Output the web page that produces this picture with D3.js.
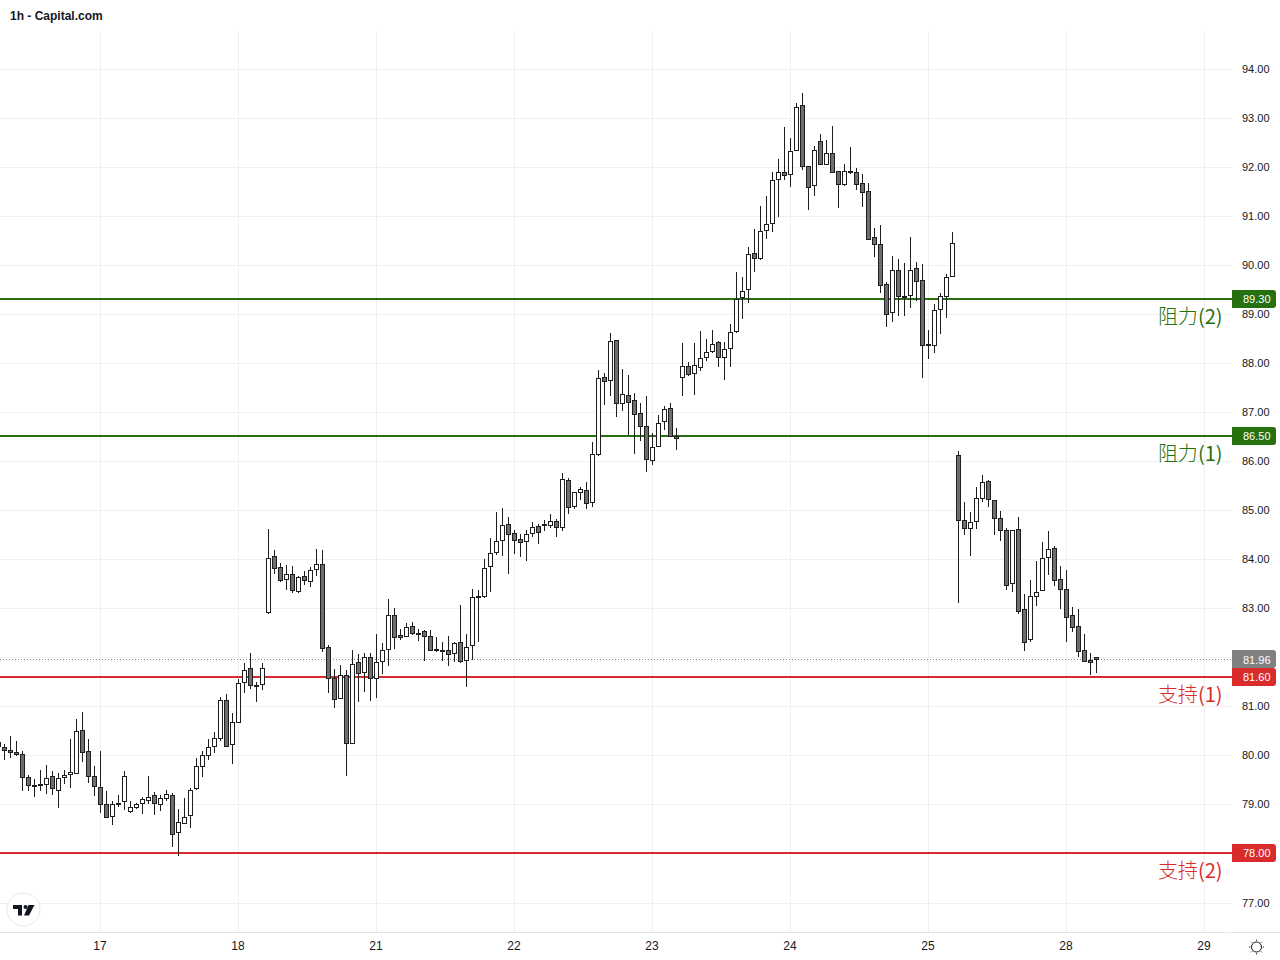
<!DOCTYPE html>
<html>
<head>
<meta charset="utf-8">
<title>1h - Capital.com</title>
<script src="https://d3js.org/d3.v7.min.js"></script>
<style>
html, body { margin: 0; padding: 0; background: #fff; }
svg { display: block; }
</style>
</head>
<body>
<script>
// DATA
var opens = [80.28,
80.18,80.12,80.06,80.02,79.55,79.40,79.42,79.42,79.57,79.30,
79.56,79.63,79.65,80.51,80.10,79.59,79.35,79.00,78.77,79.03,
79.08,78.86,78.94,79.02,79.09,79.19,79.01,79.14,79.19,78.44,
78.63,78.78,79.33,79.78,80.00,80.20,80.35,81.14,80.23,80.69,
81.49,81.78,81.44,81.45,82.92,84.06,83.85,83.59,83.71,83.36,
83.65,83.55,83.81,83.90,82.22,81.57,81.18,81.63,80.26,81.90,
81.71,82.00,81.57,81.92,82.18,82.86,82.45,82.43,82.63,82.49,
82.53,82.43,82.17,82.16,82.14,82.08,82.32,81.94,82.26,83.25,
83.26,83.86,84.14,84.39,84.73,84.53,84.41,84.37,84.53,84.67,
84.71,84.69,84.79,84.65,85.61,85.08,85.37,85.41,85.16,86.14,
87.71,87.65,88.47,87.18,87.35,87.24,86.98,86.71,86.02,86.32,
86.83,87.08,86.52,87.71,87.95,87.80,87.93,88.12,88.24,88.44,
88.12,88.30,88.65,89.34,89.52,90.24,90.14,90.71,90.85,91.75,
91.89,91.85,92.34,93.26,92.03,91.63,92.54,92.07,92.28,91.91,
91.65,91.91,91.89,91.67,91.52,90.58,90.44,89.61,89.04,89.91,
89.38,89.40,89.95,89.69,88.40,88.38,89.10,89.38,89.77,86.12,
84.81,84.63,84.79,85.26,85.59,85.20,84.85,84.59,83.51,84.61,
82.98,82.37,83.26,83.37,84.04,84.24,83.59,83.39,82.86,82.63,
82.14,81.94,82.00];

var highs = [80.33,
80.23,80.40,80.29,80.08,79.61,79.51,79.70,79.80,79.68,79.65,
79.70,80.33,80.74,80.88,80.33,79.78,80.09,79.27,79.08,79.19,
79.69,79.06,79.02,79.15,79.58,79.25,79.19,79.29,79.23,78.91,
79.14,79.33,79.95,80.08,80.33,80.47,81.20,81.25,80.86,81.56,
81.88,82.08,81.49,81.88,84.62,84.19,83.92,83.88,83.86,83.66,
83.77,83.85,84.21,84.19,82.25,81.76,81.84,81.74,82.15,82.06,
82.09,82.08,82.47,82.29,83.19,83.00,82.58,82.70,82.73,82.58,
82.55,82.55,82.41,82.32,82.43,82.32,83.07,82.47,83.39,83.37,
84.00,84.43,84.97,85.05,84.86,84.59,84.52,84.60,84.76,84.73,
84.80,84.92,84.82,85.75,85.66,85.37,85.47,85.57,86.39,87.86,
87.80,88.62,88.47,87.88,87.76,87.39,87.19,87.33,86.57,86.94,
87.12,87.18,86.68,88.41,88.02,88.41,88.65,88.49,88.67,88.46,
88.43,88.80,89.86,89.76,90.36,90.73,91.20,91.41,91.90,92.16,
92.82,92.59,93.30,93.51,92.03,92.42,92.67,92.55,92.84,91.91,
92.06,92.41,91.99,91.86,91.67,90.75,90.82,89.65,90.19,90.12,
90.04,90.57,90.06,90.02,88.68,89.20,89.43,89.81,90.68,86.21,
85.17,84.96,85.47,85.72,85.62,85.20,84.98,84.63,84.59,84.86,
83.29,83.58,83.96,84.35,84.58,84.27,83.86,83.78,83.03,82.99,
82.47,82.09,82.01];

var lows = [80.14,
79.91,79.95,79.98,79.27,79.27,79.15,79.27,79.22,79.19,78.93,
79.41,79.34,79.63,79.86,79.44,79.17,78.82,78.73,78.58,78.95,
78.89,78.83,78.91,78.80,79.01,78.78,78.87,79.07,78.13,77.95,
78.63,78.52,79.29,79.56,79.91,80.05,80.29,80.18,79.82,80.68,
81.27,81.35,81.09,81.33,82.88,83.70,83.54,83.38,83.32,83.32,
83.47,83.44,83.66,82.11,81.27,80.96,81.15,79.58,80.23,81.09,
81.29,81.11,81.17,81.66,81.82,82.17,82.35,82.42,82.45,82.33,
81.92,82.13,82.10,81.92,81.82,81.90,81.88,81.39,81.94,82.31,
83.21,83.33,84.09,84.07,83.70,84.11,84.05,83.97,84.45,84.31,
84.58,84.64,84.45,84.58,84.92,85.02,85.21,85.02,85.07,86.10,
87.15,87.33,86.90,87.03,86.54,86.15,86.41,85.78,85.92,86.31,
86.64,86.49,86.23,87.33,87.74,87.35,87.84,88.05,88.20,87.92,
87.65,87.92,88.61,88.90,89.22,89.86,90.10,90.53,90.67,90.98,
91.73,91.59,92.33,91.94,91.12,91.41,92.06,92.06,91.87,91.16,
91.61,91.86,91.53,91.18,90.51,90.16,89.43,88.74,88.84,88.96,
88.96,89.12,89.27,87.70,88.08,88.21,88.60,88.92,89.77,83.11,
84.49,84.07,84.62,85.17,85.07,84.49,84.37,83.37,83.33,82.88,
82.13,82.31,83.05,83.36,83.68,83.45,82.98,82.31,82.52,82.01,
81.90,81.64,81.68];

var closes = [80.20,
80.12,80.06,80.03,79.55,79.39,79.38,79.40,79.53,79.33,79.53,
79.61,79.67,80.49,80.06,79.57,79.37,79.00,78.75,79.00,79.01,
79.57,78.94,79.01,79.12,79.16,79.02,79.14,79.21,78.39,78.65,
78.75,79.29,79.78,80.00,80.18,80.35,81.14,80.20,80.69,81.47,
81.75,81.43,81.42,81.78,84.02,83.83,83.57,83.69,83.37,83.63,
83.57,83.79,83.90,82.20,81.57,81.16,81.63,80.26,81.86,81.69,
82.00,81.57,81.90,82.14,82.86,82.41,82.41,82.61,82.49,82.48,
82.43,82.14,82.15,82.14,82.06,82.30,81.92,82.22,83.24,83.26,
83.83,84.12,84.37,84.69,84.51,84.39,84.35,84.51,84.65,84.55,
84.69,84.79,84.65,85.63,85.06,85.37,85.43,85.14,86.14,87.69,
87.63,88.45,87.18,87.37,87.20,86.96,86.71,86.04,86.30,86.79,
87.06,86.51,86.47,87.95,87.78,87.97,88.10,88.22,88.40,88.12,
88.28,88.63,89.31,89.48,90.22,90.14,90.69,90.83,91.73,91.89,
91.83,92.32,93.22,92.03,91.60,92.34,92.07,92.28,91.89,91.65,
91.91,91.90,91.65,91.50,90.54,90.44,89.59,89.00,89.91,89.38,
89.37,89.91,89.67,88.38,88.38,89.08,89.36,89.75,90.46,84.81,
84.63,84.77,85.26,85.57,85.22,84.85,84.59,83.47,84.59,82.94,
82.32,83.26,83.34,84.02,84.22,83.57,83.39,82.83,82.61,82.12,
81.92,81.90,81.96];

var priceTicks = [77, 78, 79, 80, 81, 82, 83, 84, 85, 86, 87, 88, 89, 90, 91, 92, 93, 94];
var hiddenPriceTicks = [78, 82];
var dayTickIndex = [17, 40, 63, 86, 109, 132, 155, 178, 201];
var dayTickLabels = ["17", "18", "21", "22", "23", "24", "25", "28", "29"];
var levelValues = [89.30, 86.50, 81.60, 78.00];
var levelNames = ["阻力", "阻力", "支持", "支持"];
var levelNums = ["(2)", "(1)", "(1)", "(2)"];
var lastPrice = 81.96;

// SCALES
var w = 1280;
var h = 960;
var paneRight = 1232;
var axisY = 932.5;

var x = d3.scaleLinear().domain([0, 183]).range([-1.5, 1096.5]);
var y = d3.scaleLinear().domain([94, 77]).range([69, 902.5]);

var green = "#26700f";
var red = "#d92b2b";
var border = "#1e1e1e";
var downFill = "#6e6e6e";

function levelColor(d) {
    return d > lastPrice ? green : red;
}
function snap(v) {
    return Math.round(v) + 0.5;
}
function levelY(d) {
    return Math.floor(y(d) + 0.2);
}

var svg = d3.select("body")
    .append("svg")
    .attr("width", w)
    .attr("height", h)
    .attr("font-family", "'Liberation Sans', Arial, sans-serif");

// GRID
svg.append("g")
    .selectAll("line")
    .data(priceTicks)
    .enter()
    .append("line")
    .attr("x1", 0)
    .attr("x2", paneRight)
    .attr("y1", function(d) { return snap(y(d)); })
    .attr("y2", function(d) { return snap(y(d)); })
    .attr("stroke", "#efeff1");

svg.append("g")
    .selectAll("line")
    .data(dayTickIndex)
    .enter()
    .append("line")
    .attr("x1", function(d) { return Math.floor(x(d)) + 0.5; })
    .attr("x2", function(d) { return Math.floor(x(d)) + 0.5; })
    .attr("y1", 31)
    .attr("y2", axisY)
    .attr("stroke", "#efeff1");

// LAST PRICE dotted line
svg.append("line")
    .attr("x1", 0)
    .attr("x2", paneRight)
    .attr("y1", snap(y(lastPrice)))
    .attr("y2", snap(y(lastPrice)))
    .attr("stroke", "#808080")
    .attr("stroke-dasharray", "1 2");

// LEVEL lines
svg.append("g")
    .selectAll("line")
    .data(levelValues)
    .enter()
    .append("line")
    .attr("x1", 0)
    .attr("x2", paneRight)
    .attr("y1", levelY)
    .attr("y2", levelY)
    .attr("stroke", levelColor)
    .attr("stroke-width", 2);

// CANDLES
var candles = svg.append("g")
    .selectAll("g")
    .data(opens)
    .enter()
    .append("g")
    .attr("shape-rendering", "crispEdges");

candles.append("line")
    .attr("x1", function(d, i) { return Math.floor(x(i)) + 0.5; })
    .attr("x2", function(d, i) { return Math.floor(x(i)) + 0.5; })
    .attr("y1", function(d, i) { return Math.round(y(highs[i])); })
    .attr("y2", function(d, i) { return Math.round(y(lows[i])); })
    .attr("stroke", border);

candles.append("rect")
    .attr("x", function(d, i) { return Math.floor(x(i)) - 1.5; })
    .attr("width", 4)
    .attr("y", function(d, i) { return snap(y(Math.max(d, closes[i]))); })
    .attr("height", function(d, i) {
        return Math.max(1, snap(y(Math.min(d, closes[i]))) - snap(y(Math.max(d, closes[i]))));
    })
    .attr("fill", function(d, i) { return closes[i] >= d ? "#ffffff" : downFill; })
    .attr("stroke", border);

// LEVEL labels
var labels = svg.append("g")
    .selectAll("text")
    .data(levelValues)
    .enter()
    .append("text")
    .attr("x", 1222.5)
    .attr("y", function(d) { return levelY(d) + 24.5; })
    .attr("text-anchor", "end")
    .attr("font-family", "'Noto Sans CJK SC', sans-serif")
    .attr("font-size", 20)
    .attr("fill", levelColor);

labels.append("tspan")
    .attr("font-weight", 300)
    .text(function(d, i) { return levelNames[i]; });
labels.append("tspan")
    .attr("font-weight", 400)
    .text(function(d, i) { return levelNums[i]; });

// PRICE AXIS
var yAxis = d3.axisRight(y)
    .tickValues(priceTicks.filter(function(d) { return hiddenPriceTicks.indexOf(d) < 0; }))
    .tickSize(0)
    .tickPadding(0)
    .tickFormat(d3.format(".2f"));

var yAxisG = svg.append("g")
    .attr("transform", "translate(1242,0)")
    .call(yAxis);
yAxisG.select(".domain").remove();
yAxisG.selectAll("text")
    .attr("font-family", "'Liberation Sans', Arial, sans-serif")
    .attr("font-size", 11)
    .attr("fill", "#131722");

// PRICE TAGS
function tag(value, color, textDy) {
    var yy = levelY(value);
    svg.append("path")
        .attr("d", "M1232," + (yy - 9) + "H1273a3,3 0 0 1 3,3V" + (yy + 6) + "a3,3 0 0 1 -3,3H1232Z")
        .attr("fill", color);
    svg.append("text")
        .attr("x", 1243)
        .attr("y", yy + textDy)
        .attr("font-size", 11)
        .attr("fill", "#ffffff")
        .text(d3.format(".2f")(value));
}
tag(lastPrice, "#808080", 5);
levelValues.forEach(function(d) { tag(d, levelColor(d), 4); });

// TIME AXIS
svg.append("line")
    .attr("x1", 0)
    .attr("x2", paneRight - 1)
    .attr("y1", axisY)
    .attr("y2", axisY)
    .attr("stroke", "#e0e3eb");
svg.append("line")
    .attr("x1", paneRight)
    .attr("x2", w)
    .attr("y1", axisY)
    .attr("y2", axisY)
    .attr("stroke", "#e0e3eb");

var xAxis = d3.axisBottom(x)
    .tickValues(dayTickIndex)
    .tickSize(0)
    .tickPadding(0)
    .tickFormat(function(d, i) { return dayTickLabels[i]; });

var xAxisG = svg.append("g")
    .attr("transform", "translate(-1,941)")
    .call(xAxis);
xAxisG.select(".domain").remove();
xAxisG.selectAll("text")
    .attr("font-family", "'Liberation Sans', Arial, sans-serif")
    .attr("font-size", 12)
    .attr("fill", "#131722");

// TITLE
svg.append("text")
    .attr("x", 10)
    .attr("y", 20)
    .attr("font-size", 12)
    .attr("font-weight", "bold")
    .attr("fill", "#131722")
    .text("1h - Capital.com");

// LOGO
var logo = svg.append("g").attr("transform", "translate(23.5,909.5)");
logo.append("circle")
    .attr("r", 16.5)
    .attr("fill", "#ffffff")
    .attr("stroke", "#e8e8ec");
logo.append("path")
    .attr("d", "M-10.5,-4.5H-1.5V6H-5.5V-0.5H-10.5Z M5,-4.5H11L5.5,6H0.5Z")
    .attr("fill", "#131722");
logo.append("circle")
    .attr("cx", 2)
    .attr("cy", -2.5)
    .attr("r", 2)
    .attr("fill", "#131722");

// SETTINGS sun
var sun = svg.append("g").attr("transform", "translate(1256.5,947)");
sun.append("circle")
    .attr("r", 5)
    .attr("fill", "none")
    .attr("stroke", "#131722");
d3.range(8).forEach(function(k) {
    var a = k * Math.PI / 4;
    sun.append("line")
        .attr("x1", 6.2 * Math.cos(a))
        .attr("y1", 6.2 * Math.sin(a))
        .attr("x2", 7.4 * Math.cos(a))
        .attr("y2", 7.4 * Math.sin(a))
        .attr("stroke", "#131722");
});
</script>
</body>
</html>
